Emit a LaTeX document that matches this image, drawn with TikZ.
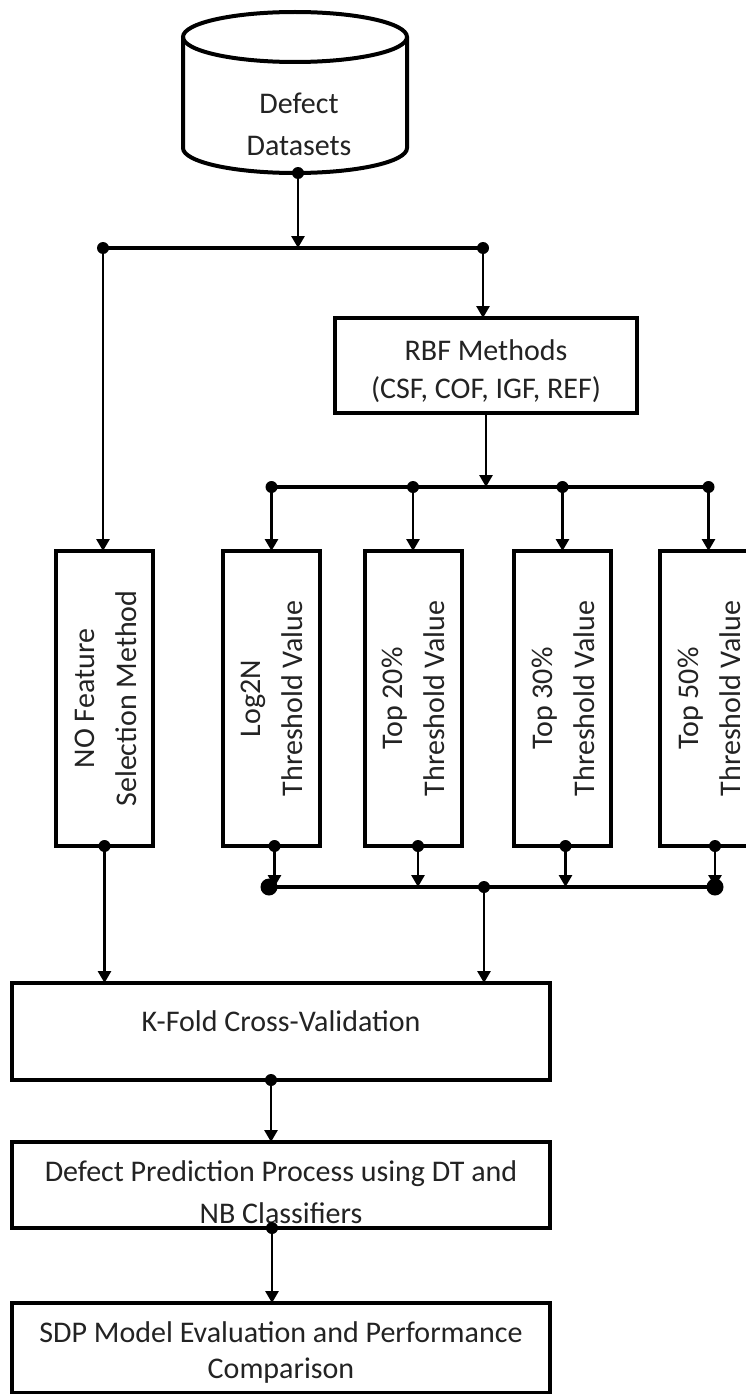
\documentclass[tikz,border=0pt]{standalone}
\usepackage{fontspec}
\setmainfont{Carlito}
\usetikzlibrary{arrows.meta,calc}
\definecolor{txtc}{RGB}{35,35,35}
\tikzset{
  box/.style={draw, line width=4pt, inner sep=0pt, rectangle, outer sep=0pt},
  conn/.style={line width=2.8pt, -{Triangle[width=13pt,length=12pt]}},
  bus/.style={line width=3.8pt},
  lbl/.style={font=\fontsize{30}{42}\selectfont, text=txtc, align=center, inner sep=0pt},
}
\newcommand{\smalldot}[1]{\fill (#1) circle[radius=6pt];}
\newcommand{\bigdot}[1]{\fill (#1) circle[radius=8.5pt];}
\begin{document}
\begin{tikzpicture}[x=1pt,y=-1pt]
\useasboundingbox (0,0) rectangle (746,1394);
\clip (0,0) rectangle (746,1394);
\fill[white] (0,0) rectangle (746,1394);

% cylinder
\draw[line width=4pt] (183,37) -- (183,148) arc[start angle=180, end angle=0, x radius=112, y radius=25] -- (407,37);
\draw[line width=4pt] (295,37) ellipse[x radius=112, y radius=25];
\node[lbl] (db) at (299,124) {Defect\\Datasets};
\coordinate (dbbot) at (298,173);

% first bus
\coordinate (b1l) at (103,248);
\coordinate (b1r) at (483,248);
\draw[bus] (b1l) -- (b1r);

% boxes
\node[box, minimum width=302, minimum height=95] (rbf) at (486,365.5) {};
\node[lbl] (rbftxt) at (486,371) {RBF Methods\\[-4pt](CSF, COF, IGF, REF)};

\node[box, minimum width=97, minimum height=295] (nofs) at (104.5,698.5) {};
\node[lbl, rotate=90] (nofstxt) at (106,698.5) {NO Feature\\Selection Method};

\node[box, minimum width=97, minimum height=295] (t1) at (271.5,698.5) {};
\node[box, minimum width=97, minimum height=295] (t2) at (413,698.5) {};
\node[box, minimum width=97, minimum height=295] (t3) at (562.5,698.5) {};
\node[box, minimum width=97, minimum height=295] (t4) at (708.5,698.5) {};
\node[lbl, rotate=90] (t1txt) at (272,698.5) {Log2N\\Threshold Value};
\node[lbl, rotate=90] (t2txt) at (413.5,698.5) {Top 20\%\\Threshold Value};
\node[lbl, rotate=90] (t3txt) at (563,698.5) {Top 30\%\\Threshold Value};
\node[lbl, rotate=90] (t4txt) at (709,698.5) {Top 50\%\\Threshold Value};

\node[box, minimum width=538, minimum height=97] (kfold) at (281,1031.5) {};
\node[lbl] (kfoldtxt) at (281,1021) {K-Fold Cross-Validation};

\node[box, minimum width=538, minimum height=86] (dpp) at (281,1185) {};
\node[lbl] (dpptxt) at (281,1192) {Defect Prediction Process using DT and\\NB Classifiers};

\node[box, minimum width=538, minimum height=90] (sdp) at (281,1348) {};
\node[lbl] (sdptxt) at (281,1352) {SDP Model Evaluation and Performance\\[-6pt]Comparison};

% connectors top part
\draw[conn] (dbbot) -- (dbbot |- b1l);
\smalldot{dbbot}
\draw[conn] (b1l) -- (b1l |- nofs.north);
\draw[conn] (b1r) -- (b1r |- rbf.north);
\smalldot{b1l}
\smalldot{b1r}

% second bus
\coordinate (b2l) at (t1.north |- 0,487);
\coordinate (b2r) at (t4.north |- 0,487);
\draw[bus] (b2l) -- (b2r);
\draw[conn] (rbf.south) -- (rbf.south |- b2l);
\foreach \t in {t1,t2,t3,t4}{
  \draw[conn] (\t.north |- b2l) -- (\t.north);
  \smalldot{\t.north |- b2l}
}

% third bus
\coordinate (b3l) at (269,887);
\coordinate (b3r) at (715,887);
\draw[bus] (b3l) -- (b3r);
\coordinate (t1o) at ([xshift=3pt]t1.south);
\coordinate (t2o) at ([xshift=5pt]t2.south);
\coordinate (t3o) at ([xshift=3pt]t3.south);
\coordinate (t4o) at ([xshift=6.5pt]t4.south);
\foreach \o in {t1o,t2o,t3o,t4o}{
  \draw[conn] (\o) -- (\o |- b3l);
  \smalldot{\o}
}
\bigdot{b3l}
\bigdot{b3r}

% into k-fold
\coordinate (b3o) at (484,887);
\draw[conn] (b3o) -- (b3o |- kfold.north);
\smalldot{b3o}
\draw[conn] (nofs.south) -- (nofs.south |- kfold.north);
\smalldot{nofs.south}

% lower chain
\coordinate (kout) at ([xshift=-10pt]kfold.south);
\draw[conn] (kout) -- (kout |- dpp.north);
\smalldot{kout}
\coordinate (dout) at ([xshift=-9pt]dpp.south);
\draw[conn] (dout) -- (dout |- sdp.north);
\smalldot{dout}
\end{tikzpicture}
\end{document}
